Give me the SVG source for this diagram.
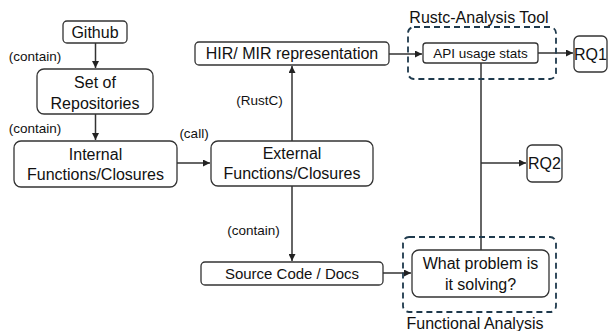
<svg xmlns="http://www.w3.org/2000/svg" width="609" height="331" viewBox="0 0 609 331">
<defs>
<marker id="ah" viewBox="0 0 10 10" refX="10" refY="5" markerWidth="7" markerHeight="7" markerUnits="userSpaceOnUse" orient="auto">
<path d="M0,0 L10,5 L0,10 z" fill="#222"/>
</marker>
</defs>
<style>
.box{fill:#fff;stroke:#333;stroke-width:1.3}
.dash{fill:none;stroke:#1f3a4d;stroke-width:1.8;stroke-dasharray:6,4}
.t{font-family:"Liberation Sans",Arial,sans-serif;font-size:16px;fill:#111;text-anchor:middle;dominant-baseline:central}
.s{font-size:13.5px}
.l{font-family:"Liberation Sans",Arial,sans-serif;font-size:13.5px;fill:#111;text-anchor:middle;dominant-baseline:central}
.c{fill:none;stroke:#333;stroke-width:1.5}
</style>
<rect width="609" height="331" fill="#fff"/>
<g id="connectors">
<path class="c" d="M95.5,43 V68" marker-end="url(#ah)"/>
<path class="c" d="M95.5,114 V140" marker-end="url(#ah)"/>
<path class="c" d="M177,163 H210" marker-end="url(#ah)"/>
<path class="c" d="M292,141 V66" marker-end="url(#ah)"/>
<path class="c" d="M292,186 V261" marker-end="url(#ah)"/>
<path class="c" d="M389,54 H422" marker-end="url(#ah)"/>
<path class="c" d="M538,53 H573" marker-end="url(#ah)"/>
<path class="c" d="M383,273 H411" marker-end="url(#ah)"/>
<path class="c" d="M481,63 V250"/>
<path class="c" d="M481,163 H526" marker-end="url(#ah)"/>
<text class="l" x="35" y="56">(contain)</text>
<text class="l" x="35" y="128">(contain)</text>
<text class="l" x="194" y="133">(call)</text>
<text class="l" x="259.5" y="100">(RustC)</text>
<text class="l" x="253.5" y="230">(contain)</text>
</g>
<g id="rustc-tool">
<rect class="dash" x="408" y="27" width="148" height="52" rx="6"/>
<text class="t" x="479" y="17">Rustc-Analysis Tool</text>
</g>
<g id="functional-analysis">
<rect class="dash" x="403" y="237" width="153" height="75" rx="6"/>
<text class="t" x="475" y="323">Functional Analysis</text>
</g>
<g id="github">
<rect class="box" x="63" y="21" width="64" height="22" rx="4"/>
<text class="t" x="95" y="32">Github</text>
</g>
<g id="repos">
<rect class="box" x="37" y="69" width="116" height="45" rx="7"/>
<text class="t" x="95" y="82">Set of</text>
<text class="t" x="95" y="103">Repositories</text>
</g>
<g id="internal">
<rect class="box" x="14" y="141" width="163" height="46" rx="7"/>
<text class="t" x="95.5" y="154">Internal</text>
<text class="t" x="95.5" y="174">Functions/Closures</text>
</g>
<g id="external">
<rect class="box" x="211" y="141" width="162" height="45" rx="7"/>
<text class="t" x="292" y="153">External</text>
<text class="t" x="292" y="173">Functions/Closures</text>
</g>
<g id="hir">
<rect class="box" x="195" y="42" width="194" height="23" rx="4"/>
<text class="t" x="292" y="53.5">HIR/ MIR representation</text>
</g>
<g id="api">
<rect class="box" x="423" y="43" width="115" height="20" rx="3"/>
<text class="t s" x="480.5" y="53">API usage stats</text>
</g>
<g id="rq1">
<rect class="box" x="574" y="36" width="33" height="36" rx="5"/>
<text class="t" x="590.5" y="54">RQ1</text>
</g>
<g id="rq2">
<rect class="box" x="527" y="145" width="35" height="37" rx="5"/>
<text class="t" x="544.5" y="163">RQ2</text>
</g>
<g id="source">
<rect class="box" x="201" y="262" width="182" height="23" rx="4"/>
<text class="t" x="292" y="273.5" style="font-size:15px">Source Code / Docs</text>
</g>
<g id="what">
<rect class="box" x="412" y="250" width="137" height="47" rx="7"/>
<text class="t" x="480.5" y="263">What problem is</text>
<text class="t" x="480.5" y="284">it solving?</text>
</g>
</svg>
